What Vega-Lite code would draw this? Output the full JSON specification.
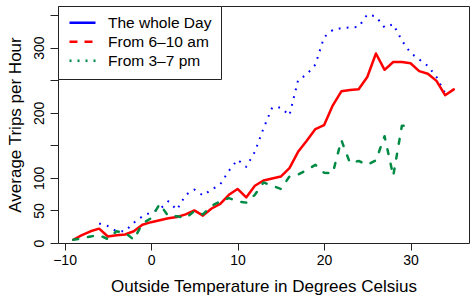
{
  "$schema": "https://vega.github.io/schema/vega-lite/v6.json",
  "width": 411,
  "height": 237,
  "autosize": {"type": "none"},
  "padding": {"left": 58, "top": 6, "right": 6, "bottom": 59},
  "config": {
    "view": {"stroke": "#222", "strokeWidth": 1},
    "font": "Liberation Sans",
    "legend": {"labelFontSize": 15.5, "labelFont": "Liberation Sans", "labelLimit": 300}
  },
  "datasets": {
    "trips": [
      {"T": -6, "v": 30, "series": "The whole Day"},
      {"T": -5, "v": 26, "series": "The whole Day"},
      {"T": -4, "v": 18, "series": "The whole Day"},
      {"T": -3, "v": 18, "series": "The whole Day"},
      {"T": -2, "v": 31, "series": "The whole Day"},
      {"T": -1, "v": 41, "series": "The whole Day"},
      {"T": 0, "v": 47, "series": "The whole Day"},
      {"T": 1, "v": 52, "series": "The whole Day"},
      {"T": 2, "v": 64, "series": "The whole Day"},
      {"T": 3, "v": 51, "series": "The whole Day"},
      {"T": 4, "v": 74, "series": "The whole Day"},
      {"T": 5, "v": 82, "series": "The whole Day"},
      {"T": 6, "v": 73, "series": "The whole Day"},
      {"T": 7, "v": 82, "series": "The whole Day"},
      {"T": 8, "v": 90, "series": "The whole Day"},
      {"T": 9, "v": 111, "series": "The whole Day"},
      {"T": 10, "v": 128, "series": "The whole Day"},
      {"T": 11, "v": 117, "series": "The whole Day"},
      {"T": 12, "v": 140, "series": "The whole Day"},
      {"T": 13, "v": 176, "series": "The whole Day"},
      {"T": 14, "v": 208, "series": "The whole Day"},
      {"T": 15, "v": 208, "series": "The whole Day"},
      {"T": 16, "v": 196, "series": "The whole Day"},
      {"T": 17, "v": 250, "series": "The whole Day"},
      {"T": 18, "v": 259, "series": "The whole Day"},
      {"T": 19, "v": 274, "series": "The whole Day"},
      {"T": 20, "v": 316, "series": "The whole Day"},
      {"T": 21, "v": 327, "series": "The whole Day"},
      {"T": 22, "v": 330, "series": "The whole Day"},
      {"T": 23, "v": 331, "series": "The whole Day"},
      {"T": 24, "v": 332, "series": "The whole Day"},
      {"T": 25, "v": 351, "series": "The whole Day"},
      {"T": 26, "v": 348, "series": "The whole Day"},
      {"T": 27, "v": 331, "series": "The whole Day"},
      {"T": 28, "v": 336, "series": "The whole Day"},
      {"T": 29, "v": 311, "series": "The whole Day"},
      {"T": 30, "v": 292, "series": "The whole Day"},
      {"T": 31, "v": 282, "series": "The whole Day"},
      {"T": 32, "v": 272, "series": "The whole Day"},
      {"T": 33, "v": 255, "series": "The whole Day"},
      {"T": 34, "v": 230, "series": "The whole Day"},

      {"T": -9, "v": 5, "series": "From 6–10 am"},
      {"T": -8, "v": 12, "series": "From 6–10 am"},
      {"T": -7, "v": 18, "series": "From 6–10 am"},
      {"T": -6, "v": 22, "series": "From 6–10 am"},
      {"T": -5, "v": 10, "series": "From 6–10 am"},
      {"T": -4, "v": 12, "series": "From 6–10 am"},
      {"T": -3, "v": 13, "series": "From 6–10 am"},
      {"T": -2, "v": 18, "series": "From 6–10 am"},
      {"T": -1, "v": 28, "series": "From 6–10 am"},
      {"T": 0, "v": 32, "series": "From 6–10 am"},
      {"T": 1, "v": 35, "series": "From 6–10 am"},
      {"T": 2, "v": 38, "series": "From 6–10 am"},
      {"T": 3, "v": 40, "series": "From 6–10 am"},
      {"T": 4, "v": 44, "series": "From 6–10 am"},
      {"T": 5, "v": 50, "series": "From 6–10 am"},
      {"T": 6, "v": 42, "series": "From 6–10 am"},
      {"T": 7, "v": 53, "series": "From 6–10 am"},
      {"T": 8, "v": 60, "series": "From 6–10 am"},
      {"T": 9, "v": 74, "series": "From 6–10 am"},
      {"T": 10, "v": 83, "series": "From 6–10 am"},
      {"T": 11, "v": 70, "series": "From 6–10 am"},
      {"T": 12, "v": 88, "series": "From 6–10 am"},
      {"T": 13, "v": 96, "series": "From 6–10 am"},
      {"T": 14, "v": 99, "series": "From 6–10 am"},
      {"T": 15, "v": 102, "series": "From 6–10 am"},
      {"T": 16, "v": 115, "series": "From 6–10 am"},
      {"T": 17, "v": 140, "series": "From 6–10 am"},
      {"T": 18, "v": 157, "series": "From 6–10 am"},
      {"T": 19, "v": 175, "series": "From 6–10 am"},
      {"T": 20, "v": 181, "series": "From 6–10 am"},
      {"T": 21, "v": 211, "series": "From 6–10 am"},
      {"T": 22, "v": 233, "series": "From 6–10 am"},
      {"T": 23, "v": 235, "series": "From 6–10 am"},
      {"T": 24, "v": 236, "series": "From 6–10 am"},
      {"T": 25, "v": 255, "series": "From 6–10 am"},
      {"T": 26, "v": 291, "series": "From 6–10 am"},
      {"T": 27, "v": 266, "series": "From 6–10 am"},
      {"T": 28, "v": 278, "series": "From 6–10 am"},
      {"T": 29, "v": 278, "series": "From 6–10 am"},
      {"T": 30, "v": 276, "series": "From 6–10 am"},
      {"T": 31, "v": 264, "series": "From 6–10 am"},
      {"T": 32, "v": 260, "series": "From 6–10 am"},
      {"T": 33, "v": 249, "series": "From 6–10 am"},
      {"T": 34, "v": 227, "series": "From 6–10 am"},
      {"T": 35, "v": 236, "series": "From 6–10 am"},

      {"T": -9, "v": 5, "series": "From 3–7 pm"},
      {"T": -8, "v": 7, "series": "From 3–7 pm"},
      {"T": -7, "v": 10, "series": "From 3–7 pm"},
      {"T": -6, "v": 12, "series": "From 3–7 pm"},
      {"T": -5, "v": 6, "series": "From 3–7 pm"},
      {"T": -4, "v": 18, "series": "From 3–7 pm"},
      {"T": -3, "v": 16, "series": "From 3–7 pm"},
      {"T": -2, "v": 5, "series": "From 3–7 pm"},
      {"T": -1, "v": 30, "series": "From 3–7 pm"},
      {"T": 0, "v": 38, "series": "From 3–7 pm"},
      {"T": 1, "v": 60, "series": "From 3–7 pm"},
      {"T": 2, "v": 41, "series": "From 3–7 pm"},
      {"T": 3, "v": 41, "series": "From 3–7 pm"},
      {"T": 4, "v": 38, "series": "From 3–7 pm"},
      {"T": 5, "v": 49, "series": "From 3–7 pm"},
      {"T": 6, "v": 44, "series": "From 3–7 pm"},
      {"T": 7, "v": 57, "series": "From 3–7 pm"},
      {"T": 8, "v": 64, "series": "From 3–7 pm"},
      {"T": 9, "v": 69, "series": "From 3–7 pm"},
      {"T": 10, "v": 64, "series": "From 3–7 pm"},
      {"T": 11, "v": 62, "series": "From 3–7 pm"},
      {"T": 12, "v": 74, "series": "From 3–7 pm"},
      {"T": 13, "v": 93, "series": "From 3–7 pm"},
      {"T": 14, "v": 88, "series": "From 3–7 pm"},
      {"T": 15, "v": 83, "series": "From 3–7 pm"},
      {"T": 16, "v": 102, "series": "From 3–7 pm"},
      {"T": 17, "v": 105, "series": "From 3–7 pm"},
      {"T": 18, "v": 112, "series": "From 3–7 pm"},
      {"T": 19, "v": 120, "series": "From 3–7 pm"},
      {"T": 20, "v": 108, "series": "From 3–7 pm"},
      {"T": 21, "v": 107, "series": "From 3–7 pm"},
      {"T": 22, "v": 158, "series": "From 3–7 pm"},
      {"T": 23, "v": 123, "series": "From 3–7 pm"},
      {"T": 24, "v": 126, "series": "From 3–7 pm"},
      {"T": 25, "v": 120, "series": "From 3–7 pm"},
      {"T": 26, "v": 127, "series": "From 3–7 pm"},
      {"T": 27, "v": 164, "series": "From 3–7 pm"},
      {"T": 28, "v": 103, "series": "From 3–7 pm"},
      {"T": 29, "v": 180, "series": "From 3–7 pm"},
      {"T": 30, "v": 180, "series": "From 3–7 pm"}
    ]
  },
  "data": {"name": "trips"},
  "encoding": {
    "x": {
      "field": "T", "type": "quantitative",
      "scale": {"domain": [-10.76, 36.76], "nice": false, "zero": false},
      "axis": {
        "title": "Outside Temperature in Degrees Celsius",
        "values": [-10, 0, 10, 20, 30],
        "grid": false, "domain": false,
        "tickSize": 7, "tickColor": "#222", "tickWidth": 1,
        "labelFontSize": 14, "labelColor": "#000", "labelPadding": 3,
        "labelFlush": false, "labelOverlap": false,
        "titleFontSize": 17, "titleFontWeight": "normal", "titleColor": "#000",
        "titlePadding": 11
      }
    },
    "y": {
      "field": "v", "type": "quantitative",
      "scale": {"domain": [0, 364], "nice": false, "zero": false},
      "axis": {
        "title": "Average Trips per Hour",
        "values": [0, 50, 100, 150, 200, 250, 300, 350],
        "labelExpr": "datum.value == 150 || datum.value == 250 || datum.value == 350 ? '' : datum.label",
        "grid": false, "domain": false,
        "tickSize": 8, "tickColor": "#222", "tickWidth": 1,
        "labelAngle": -90, "labelAlign": "center", "labelBaseline": "bottom",
        "labelFontSize": 14, "labelColor": "#000", "labelPadding": 4,
        "labelFlush": false, "labelOverlap": false,
        "titleFontSize": 17, "titleFontWeight": "normal", "titleColor": "#000",
        "titlePadding": 8
      }
    },
    "color": {
      "field": "series", "type": "nominal",
      "scale": {
        "domain": ["The whole Day", "From 6–10 am", "From 3–7 pm"],
        "range": ["#0000FF", "#FF0000", "#008B45"]
      },
      "legend": {
        "title": null,
        "orient": "top-left",
        "offset": 0,
        "padding": 9,
        "rowPadding": 2,
        "clipHeight": 15.5,
        "strokeColor": "#222",
        "fillColor": "white",
        "labelFontSize": 15.5,
        "labelColor": "#000",
        "labelFont": "Liberation Sans",
        "labelLimit": 300,
        "symbolType": "stroke",
        "symbolSize": 676,
        "symbolStrokeWidth": 2.5,
        "symbolOffset": 1,
        "labelOffset": 11,
        "encode": {
          "symbols": {
            "update": {
              "strokeDash": {"signal": "datum.value == 'From 6–10 am' ? [8, 7] : datum.value == 'From 3–7 pm' ? [2, 6] : [1, 0]"}
            }
          }
        }
      }
    }
  },
  "layer": [
    {
      "transform": [{"filter": "datum.series == 'The whole Day'"}],
      "mark": {"type": "line", "strokeWidth": 2, "strokeDash": [1.8, 6.2], "strokeCap": "butt", "strokeJoin": "round"}
    },
    {
      "transform": [{"filter": "datum.series == 'From 6–10 am'"}],
      "mark": {"type": "line", "strokeWidth": 2.5, "strokeCap": "round", "strokeJoin": "round"}
    },
    {
      "transform": [{"filter": "datum.series == 'From 3–7 pm'"}],
      "mark": {"type": "line", "strokeWidth": 2.5, "strokeDash": [5, 10], "strokeCap": "round", "strokeJoin": "round"}
    }
  ]
}
